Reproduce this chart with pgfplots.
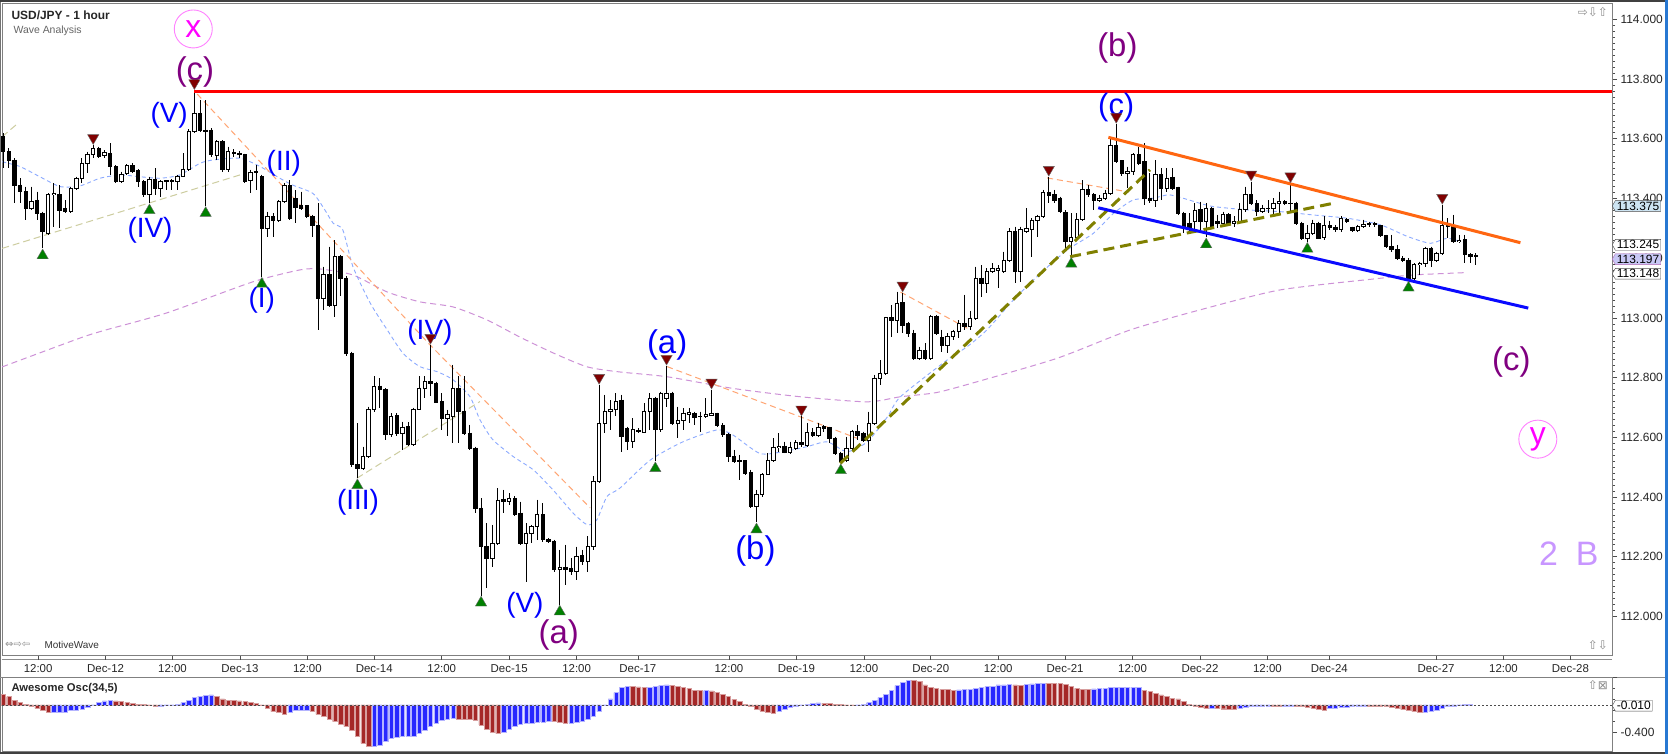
\documentclass[border=0pt]{standalone}
\usepackage{fontspec}
\setmainfont{Liberation Sans}
\newfontfamily\dejavu{DejaVu Sans}
\usepackage{pgfplots}
\pgfplotsset{compat=1.18}
\usepackage{pgfplotstable}
\usetikzlibrary{shapes.symbols}

\definecolor{wblue}{RGB}{0,0,255}
\definecolor{wpurple}{RGB}{128,0,128}
\definecolor{wpink}{RGB}{255,0,255}
\definecolor{wpinkc}{RGB}{255,130,255}
\definecolor{wlav}{RGB}{200,150,255}
\definecolor{lred}{RGB}{255,0,0}
\definecolor{lorange}{RGB}{255,102,17}
\definecolor{lblue}{RGB}{10,10,255}
\definecolor{lolive}{RGB}{128,128,0}
\definecolor{lolivel}{RGB}{205,205,160}
\definecolor{mablue}{RGB}{140,170,255}
\definecolor{mapurple}{RGB}{205,145,215}
\definecolor{lsalmon}{RGB}{255,165,115}
\definecolor{mkred}{RGB}{128,0,0}
\definecolor{mkgreen}{RGB}{0,128,0}
\definecolor{ored}{RGB}{165,40,40}
\definecolor{oblue}{RGB}{40,40,255}
\definecolor{boxblue}{RGB}{205,228,242}
\definecolor{boxlav}{RGB}{200,200,245}
\definecolor{framebl}{RGB}{40,120,210}

\pgfplotstableread{
i o h l c
0 113.607 113.618 113.501 113.557
1 113.557 113.568 113.501 113.529
2 113.529 113.535 113.384 113.445
3 113.445 113.468 113.384 113.423
4 113.423 113.440 113.328 113.367
5 113.367 113.440 113.360 113.389
6 113.395 113.423 113.328 113.350
7 113.350 113.356 113.233 113.289
8 113.283 113.417 113.278 113.412
9 113.412 113.451 113.306 113.417
10 113.412 113.445 113.300 113.361
11 113.367 113.395 113.350 113.356
12 113.356 113.440 113.350 113.434
13 113.434 113.473 113.428 113.468
14 113.468 113.535 113.451 113.518
15 113.518 113.557 113.484 113.546
16 113.546 113.579 113.535 113.568
17 113.568 113.574 113.535 113.540
18 113.543 113.562 113.535 113.554
19 113.551 113.585 113.479 113.507
20 113.507 113.512 113.451 113.456
21 113.456 113.490 113.451 113.479
22 113.484 113.515 113.479 113.509
23 113.509 113.518 113.484 113.490
24 113.493 113.498 113.440 113.456
25 113.456 113.462 113.406 113.412
26 113.412 113.473 113.384 113.464
27 113.464 113.501 113.412 113.434
28 113.434 113.462 113.406 113.456
29 113.456 113.462 113.428 113.459
30 113.459 113.465 113.428 113.456
31 113.456 113.479 113.428 113.475
32 113.475 113.551 113.473 113.498
33 113.498 113.632 113.493 113.626
34 113.626 113.763 113.618 113.685
35 113.685 113.730 113.624 113.627
36 113.629 113.730 113.375 113.624
37 113.629 113.635 113.540 113.546
38 113.543 113.596 113.529 113.590
39 113.590 113.595 113.490 113.496
40 113.496 113.574 113.490 113.557
41 113.554 113.565 113.540 113.551
42 113.551 113.560 113.535 113.546
43 113.546 113.550 113.451 113.456
44 113.462 113.496 113.417 113.487
45 113.487 113.512 113.428 113.490
46 113.473 113.480 113.138 113.300
47 113.300 113.356 113.272 113.339
48 113.339 113.350 113.272 113.328
49 113.328 113.395 113.322 113.389
50 113.389 113.451 113.384 113.442
51 113.442 113.462 113.328 113.334
52 113.400 113.428 113.317 113.370
53 113.375 113.423 113.361 113.367
54 113.375 113.378 113.334 113.339
55 113.339 113.345 113.272 113.311
56 113.311 113.384 112.959 113.066
57 113.066 113.172 113.026 113.144
58 113.144 113.239 113.038 113.043
59 113.043 113.261 113.004 113.205
60 113.206 113.211 113.072 113.133
61 113.133 113.139 112.871 112.882
62 112.882 112.887 112.502 112.508
63 112.508 112.647 112.463 112.497
64 112.497 112.569 112.491 112.536
65 112.536 112.703 112.530 112.692
66 112.692 112.804 112.686 112.770
67 112.772 112.798 112.698 112.761
68 112.761 112.765 112.592 112.608
69 112.608 112.680 112.600 112.670
70 112.672 112.681 112.603 112.614
71 112.612 112.653 112.558 112.634
72 112.636 112.650 112.572 112.575
73 112.575 112.700 112.572 112.694
74 112.694 112.804 112.692 112.765
75 112.765 112.804 112.731 112.787
76 112.787 112.910 112.737 112.781
77 112.781 112.787 112.714 112.717
78 112.720 112.748 112.625 112.664
79 112.664 112.692 112.603 112.675
80 112.670 112.843 112.580 112.765
81 112.765 112.804 112.580 112.686
82 112.686 112.804 112.608 112.614
83 112.614 112.642 112.558 112.564
84 112.564 112.569 112.346 112.363
85 112.363 112.396 112.070 112.234
86 112.234 112.313 112.095 112.195
87 112.195 112.307 112.167 112.245
88 112.245 112.430 112.240 112.390
89 112.393 112.424 112.346 112.385
90 112.385 112.413 112.374 112.396
91 112.396 112.402 112.335 112.340
92 112.346 112.385 112.240 112.245
93 112.245 112.313 112.117 112.279
94 112.279 112.307 112.245 112.301
95 112.301 112.391 112.257 112.340
96 112.340 112.380 112.251 112.257
97 112.257 112.262 112.245 112.251
98 112.251 112.257 112.150 112.156
99 112.156 112.223 112.040 112.165
100 112.165 112.240 112.106 112.158
101 112.162 112.195 112.139 112.150
102 112.150 112.234 112.123 112.201
103 112.203 112.223 112.173 112.184
104 112.184 112.268 112.150 112.234
105 112.234 112.469 112.223 112.452
106 112.452 112.776 112.446 112.647
107 112.647 112.742 112.614 112.686
108 112.686 112.725 112.625 112.694
109 112.694 112.748 112.670 112.720
110 112.725 112.742 112.552 112.602
111 112.630 112.636 112.558 112.586
112 112.586 112.664 112.563 112.625
113 112.622 112.630 112.613 112.619
114 112.616 112.714 112.613 112.686
115 112.686 112.748 112.625 112.731
116 112.731 112.736 112.520 112.625
117 112.625 112.753 112.619 112.748
118 112.731 112.840 112.703 112.748
119 112.748 112.753 112.642 112.647
120 112.647 112.703 112.597 112.658
121 112.658 112.697 112.625 112.681
122 112.675 112.697 112.647 112.683
123 112.680 112.686 112.642 112.666
124 112.670 112.686 112.619 112.669
125 112.669 112.731 112.664 112.677
126 112.672 112.760 112.670 112.680
127 112.680 112.683 112.636 112.641
128 112.641 112.647 112.602 112.608
129 112.608 112.613 112.518 112.535
130 112.537 112.558 112.513 112.518
131 112.522 112.541 112.457 112.519
132 112.522 112.524 112.474 112.479
133 112.482 112.491 112.362 112.368
134 112.368 112.424 112.315 112.407
135 112.407 112.479 112.401 112.477
136 112.477 112.546 112.474 112.524
137 112.524 112.597 112.518 112.565
138 112.565 112.614 112.552 112.571
139 112.571 112.586 112.546 112.549
140 112.549 112.586 112.544 112.566
141 112.563 112.591 112.558 112.582
142 112.582 112.670 112.569 112.577
143 112.574 112.647 112.569 112.616
144 112.616 112.630 112.602 112.605
145 112.605 112.649 112.602 112.633
146 112.636 112.641 112.619 112.630
147 112.633 112.636 112.580 112.597
148 112.597 112.602 112.541 112.546
149 112.546 112.552 112.513 112.518
150 112.524 112.602 112.518 112.563
151 112.563 112.625 112.558 112.619
152 112.619 112.641 112.591 112.605
153 112.613 112.619 112.586 112.591
154 112.591 112.686 112.552 112.647
155 112.647 112.809 112.642 112.798
156 112.798 112.859 112.775 112.815
157 112.815 113.004 112.809 113.000
158 113.000 113.043 112.937 112.993
159 112.993 113.088 112.949 113.049
160 113.051 113.085 112.948 112.976
161 112.980 112.987 112.937 112.948
162 112.948 112.960 112.859 112.864
163 112.864 112.904 112.859 112.892
164 112.890 112.915 112.859 112.864
165 112.864 113.010 112.859 113.006
166 113.006 113.010 112.943 112.948
167 112.935 112.960 112.887 112.909
168 112.909 112.948 112.881 112.937
169 112.937 112.960 112.926 112.954
170 112.954 112.993 112.932 112.982
171 112.982 113.077 112.960 112.971
172 112.971 113.024 112.960 112.999
173 112.999 113.172 112.993 113.133
174 113.133 113.177 113.071 113.116
175 113.116 113.166 113.082 113.155
176 113.155 113.183 113.149 113.166
177 113.160 113.177 113.099 113.166
178 113.155 113.222 113.149 113.194
179 113.194 113.300 113.188 113.289
180 113.289 113.306 113.116 113.155
181 113.155 113.306 113.121 113.295
182 113.289 113.367 113.283 113.300
183 113.295 113.334 113.205 113.328
184 113.326 113.345 113.272 113.341
185 113.339 113.429 113.334 113.420
186 113.420 113.473 113.384 113.409
187 113.412 113.429 113.384 113.395
188 113.401 113.406 113.350 113.356
189 113.353 113.361 113.227 113.255
190 113.255 113.350 113.205 113.270
191 113.270 113.350 113.261 113.330
192 113.330 113.462 113.326 113.429
193 113.429 113.445 113.406 113.412
194 113.412 113.417 113.361 113.395
195 113.395 113.412 113.389 113.401
196 113.401 113.429 113.395 113.417
197 113.417 113.607 113.412 113.579
198 113.579 113.650 113.518 113.523
199 113.526 113.529 113.476 113.484
200 113.484 113.507 113.434 113.490
201 113.490 113.551 113.479 113.546
202 113.546 113.574 113.512 113.518
203 113.523 113.585 113.378 113.401
204 113.401 113.484 113.384 113.395
205 113.395 113.529 113.373 113.479
206 113.479 113.501 113.395 113.434
207 113.434 113.501 113.423 113.468
208 113.471 113.501 113.429 113.434
209 113.437 113.440 113.345 113.350
210 113.350 113.356 113.283 113.306
211 113.317 113.350 113.289 113.300
212 113.322 113.384 113.294 113.361
213 113.362 113.390 113.295 113.323
214 113.323 113.384 113.270 113.368
215 113.368 113.373 113.300 113.306
216 113.323 113.345 113.300 113.317
217 113.317 113.356 113.306 113.345
218 113.345 113.351 113.312 113.317
219 113.317 113.340 113.306 113.323
220 113.323 113.384 113.317 113.362
221 113.362 113.440 113.356 113.412
222 113.412 113.457 113.379 113.384
223 113.384 113.395 113.340 113.356
224 113.356 113.379 113.351 113.368
225 113.365 113.395 113.351 113.368
226 113.368 113.401 113.345 113.384
227 113.382 113.423 113.351 113.390
228 113.390 113.395 113.379 113.384
229 113.385 113.451 113.351 113.383
230 113.384 113.390 113.312 113.317
231 113.317 113.323 113.262 113.267
232 113.267 113.312 113.255 113.284
233 113.284 113.329 113.278 113.315
234 113.315 113.323 113.264 113.267
235 113.270 113.340 113.262 113.309
236 113.309 113.326 113.295 113.304
237 113.304 113.312 113.289 113.295
238 113.295 113.340 113.289 113.334
239 113.331 113.334 113.317 113.323
240 113.304 113.306 113.289 113.293
241 113.293 113.312 113.289 113.306
242 113.306 113.329 113.300 113.312
243 113.314 113.323 113.306 113.315
244 113.315 113.323 113.306 113.314
245 113.309 113.312 113.270 113.275
246 113.275 113.278 113.234 113.239
247 113.239 113.278 113.222 113.228
248 113.228 113.245 113.194 113.200
249 113.200 113.206 113.189 113.194
250 113.194 113.200 113.125 113.133
251 113.133 113.183 113.127 113.178
252 113.178 113.189 113.144 113.183
253 113.183 113.239 113.172 113.234
254 113.234 113.239 113.172 113.194
255 113.194 113.222 113.189 113.217
256 113.217 113.379 113.211 113.309
257 113.309 113.334 113.267 113.306
258 113.306 113.345 113.250 113.256
259 113.256 113.278 113.250 113.260
260 113.262 113.278 113.183 113.211
261 113.211 113.217 113.183 113.206
262 113.207 113.217 113.178 113.208
}\candles

\pgfplotstableread{
i v
0 0.155
1 0.121
2 0.072
3 0.034
4 0.010
5 -0.024
6 -0.048
7 -0.082
8 -0.106
20 0.058
21 0.048
22 0.039
23 0.024
24 0.014
25 0.005
26 -0.010
27 -0.014
38 0.130
39 0.087
40 0.072
41 0.063
42 0.058
43 0.048
44 0.039
45 0.024
46 -0.005
47 -0.048
48 -0.097
49 -0.111
50 -0.130
55 -0.097
56 -0.135
57 -0.169
58 -0.203
59 -0.242
60 -0.275
61 -0.314
62 -0.372
63 -0.459
64 -0.555
65 -0.604
81 -0.203
82 -0.205
83 -0.207
84 -0.227
85 -0.290
86 -0.348
87 -0.396
88 -0.411
98 -0.242
99 -0.256
100 -0.266
112 0.266
113 0.264
114 0.256
119 0.288
120 0.266
121 0.256
122 0.242
123 0.217
124 0.208
126 0.203
127 0.184
128 0.155
129 0.121
130 0.082
131 0.048
132 0.010
133 -0.024
134 -0.058
135 -0.087
136 -0.111
137 -0.121
146 0.027
147 0.024
148 0.014
149 0.005
150 -0.005
151 -0.007
162 0.360
163 0.338
164 0.290
165 0.256
166 0.242
167 0.227
168 0.225
169 0.217
180 0.290
181 0.288
186 0.316
187 0.314
188 0.310
189 0.304
190 0.266
191 0.242
192 0.227
193 0.225
203 0.217
204 0.193
205 0.169
206 0.145
207 0.121
208 0.097
209 0.087
210 0.048
211 0.014
212 -0.014
213 -0.039
214 -0.053
216 -0.053
217 -0.054
218 -0.055
219 -0.056
226 -0.014
227 -0.015
230 -0.015
231 -0.024
232 -0.034
233 -0.048
234 -0.058
235 -0.072
243 -0.015
244 -0.016
245 -0.017
246 -0.024
247 -0.034
248 -0.048
249 -0.063
250 -0.082
251 -0.097
252 -0.110
}\oscred

\pgfplotstableread{
i v
9 -0.111
10 -0.111
11 -0.106
12 -0.082
13 -0.072
14 -0.058
15 -0.034
16 -0.005
17 0.043
18 0.058
19 0.063
28 -0.014
29 -0.010
30 -0.005
31 0.010
32 0.034
33 0.072
34 0.111
35 0.130
36 0.140
37 0.145
51 -0.111
52 -0.082
53 -0.072
54 -0.070
66 -0.594
67 -0.589
68 -0.531
69 -0.483
70 -0.469
71 -0.459
72 -0.455
73 -0.449
74 -0.411
75 -0.362
76 -0.314
77 -0.266
78 -0.217
79 -0.203
80 -0.193
89 -0.401
90 -0.353
91 -0.304
92 -0.275
93 -0.266
94 -0.263
95 -0.256
96 -0.246
97 -0.232
101 -0.263
102 -0.256
103 -0.232
104 -0.203
105 -0.169
106 -0.097
107 -0.010
108 0.087
109 0.179
110 0.256
111 0.275
115 0.258
116 0.275
117 0.280
118 0.290
125 0.210
138 -0.097
139 -0.063
140 -0.034
141 -0.014
142 -0.005
143 0.005
144 0.019
145 0.029
152 -0.003
153 0.010
154 0.034
155 0.072
156 0.106
157 0.155
158 0.217
159 0.280
160 0.328
161 0.362
170 0.219
171 0.227
172 0.229
173 0.242
174 0.251
175 0.266
176 0.275
177 0.290
178 0.292
179 0.299
182 0.304
183 0.306
184 0.309
185 0.318
194 0.232
195 0.237
196 0.242
197 0.251
198 0.256
199 0.257
200 0.258
201 0.259
202 0.260
215 -0.051
220 -0.048
221 -0.034
222 -0.024
223 -0.019
224 -0.014
225 -0.013
228 -0.014
229 -0.013
236 -0.053
237 -0.043
238 -0.034
239 -0.029
240 -0.024
241 -0.023
242 -0.014
253 -0.106
254 -0.097
255 -0.072
256 -0.048
257 -0.024
258 -0.014
259 -0.005
260 0.014
261 0.008
}\oscblue

\begin{document}
\begin{tikzpicture}[x=1bp,y=1bp]
\useasboundingbox (0,0) rectangle (1668,754);
\fill[white] (0,0) rectangle (1668,754);
\draw[black!55, line width=1bp] (0.5,0.5) rectangle (1667.5,753.5);
\fill[black!75] (0,752) rectangle (1668,754);
\fill[black!75] (0,0) rectangle (1668,2);
\fill[framebl] (1665,0) rectangle (1668,754);
\draw[black!45, line width=0.8bp] (0,77) -- (1665,77);
\draw[black!45, line width=0.8bp] (2,95) -- (1612,95);

% ---------------- main price panel ----------------
\begin{axis}[
  at={(2bp,99bp)}, anchor=south west, scale only axis,
  width=1610bp, height=652bp,
  xmin=-0.23, xmax=286.2, ymin=111.871, ymax=114.055,
  clip=false,
  axis line style={black!50, line width=0.8bp},
  tick align=outside, major tick length=5bp, minor tick length=3bp,
  tick style={black!70, line width=0.7bp},
  xtick pos=left, xticklabel pos=left,
  ytick pos=right, yticklabel pos=right,
  xtick={6.2,18.2,30.1,42.1,54.1,66.0,78.0,90.0,102.0,112.9,129.1,141.1,153.1,165.0,177.0,188.9,200.9,212.9,224.9,235.9,254.9,266.9,278.8},
  xticklabels={12:00,Dec-12,12:00,Dec-13,12:00,Dec-14,12:00,Dec-15,12:00,Dec-17,12:00,Dec-19,12:00,Dec-20,12:00,Dec-21,12:00,Dec-22,12:00,Dec-24,Dec-27,12:00,Dec-28},
  ytick={112,112.2,112.4,112.6,112.8,113,113.2,113.4,113.6,113.8,114},
  minor y tick num=9,
  scaled y ticks=false,
  /pgf/number format/assume math mode=true,
  yticklabel style={font=\fontsize{12}{12}\selectfont, text=black!85,
     /pgf/number format/fixed, /pgf/number format/fixed zerofill,
     /pgf/number format/precision=3, /pgf/number format/1000 sep={}},
  xticklabel style={font=\fontsize{11.5}{12}\selectfont, text=black!85, yshift=-1bp},
  candle/.style={only marks, mark=none, mark size=0pt, mark options={draw=none, fill=none}},
]
% moving averages
\addplot[mapurple, line width=1bp, dash pattern=on 6bp off 4bp, smooth, tension=0.4] coordinates {
(-0.2,112.836) (13.7,112.933) (18.3,112.960) (29.1,113.017) (44.4,113.121) (52.8,113.161) (56.4,113.164) (62.2,113.144) (68.3,113.087) (74.1,113.054) (80.0,113.037) (86.1,112.993) (91.9,112.936) (97.8,112.883) (103.9,112.836) (109.7,112.819) (118.1,112.803) (129.8,112.764) (141.8,112.736) (153.7,112.719) (159.6,112.736) (166,112.750) (173,112.785) (187.5,112.865) (200.5,112.960) (212.9,113.027) (227.2,113.094) (245,113.133) (250.8,113.144) (260.4,113.152)};
\addplot[mablue, line width=0.9bp, dash pattern=on 4bp off 3bp, smooth, tension=0.4] coordinates {
(-0.2,113.523) (3.0,113.507) (6.5,113.473) (10.1,113.440) (13.6,113.442) (17.2,113.468) (20.8,113.479) (24.3,113.473) (27.9,113.468) (31.4,113.479) (35.0,113.518) (37.3,113.529) (42.1,113.535) (45.7,113.507) (49.2,113.468) (51.5,113.445) (55.1,113.417) (57.2,113.362) (58.7,113.317) (60.4,113.295) (62.2,113.172) (65.3,113.049) (68.3,112.960) (71.1,112.882) (74.1,112.837) (77.2,112.820) (80.0,112.793) (83.0,112.737) (84.8,112.659) (87.1,112.592) (90.7,112.536) (94.3,112.491) (97.8,112.424) (101.4,112.346) (103.9,112.307) (105.6,112.324) (107.4,112.402) (109.7,112.430) (115.1,112.524) (120.9,112.585) (127.0,112.625) (129.8,112.608) (134.6,112.546) (138.7,112.552) (143.0,112.569) (146.6,112.585) (150.1,112.552) (153.7,112.585) (157.3,112.669) (159.6,112.736) (167.9,112.859) (171.5,112.904) (175.0,112.960) (179.7,113.060) (184.5,113.149) (189.3,113.228) (193.9,113.283) (197.5,113.350) (201.0,113.395) (204.6,113.401) (207.6,113.412) (212.9,113.384) (215.3,113.373) (221.3,113.362) (227.2,113.356) (233.0,113.345) (239.1,113.334) (245.0,113.312) (249.8,113.273) (253.9,113.250) (256.9,113.267) (260.4,113.250)};
% thin dashed guide lines
\addplot[lolivel, line width=1bp, dash pattern=on 7bp off 4bp] coordinates {(-0.2,113.233) (42.1,113.479)};
\addplot[lolivel, line width=1bp, dash pattern=on 7bp off 4bp] coordinates {(-0.2,113.607) (2.6,113.652)};
\addplot[lolivel, line width=1bp, dash pattern=on 7bp off 4bp] coordinates {(62.9,112.463) (84.8,112.720)};
\addplot[lsalmon, line width=1bp, dash pattern=on 6bp off 4bp] coordinates {(34.5,113.750) (75.9,112.910) (104.4,112.364)};
\addplot[lsalmon, line width=1bp, dash pattern=on 6bp off 4bp] coordinates {(118.1,112.837) (151.9,112.597)};
\addplot[lsalmon, line width=1bp, dash pattern=on 6bp off 4bp] coordinates {(159.6,113.087) (172,112.960)};
\addplot[lsalmon, line width=1bp, dash pattern=on 6bp off 4bp] coordinates {(185.7,113.469) (199.9,113.423)};
% candles: wicks, bodies, hollow interiors
\addplot[candle, error bars/.cd, y dir=minus, y explicit, error mark=none,
  error bar style={black, line width=1bp}]
  table[x=i, y=h, y error minus expr={\thisrow{h}-\thisrow{l}}] {\candles};
\addplot[candle, error bars/.cd, y dir=minus, y explicit, error mark=none,
  error bar style={black, line width=4.4bp}]
  table[x=i, y expr={max(\thisrow{o},\thisrow{c})+0.0017}, y error minus expr={abs(\thisrow{o}-\thisrow{c})+0.0034}] {\candles};
\addplot[candle, error bars/.cd, y dir=minus, y explicit, error mark=none,
  error bar style={white, line width=2.4bp}]
  table[x=i, y expr={\thisrow{c}-0.0017}, y error minus expr={max(0,\thisrow{c}-\thisrow{o}-0.0034)}] {\candles};
% trend lines
\addplot[lred, line width=3bp] coordinates {(34,113.758) (286.2,113.758)};
\addplot[lolive, line width=3bp, dash pattern=on 11bp off 6bp] coordinates {(148.9,112.513) (204.0,113.496)};
\addplot[lolive, line width=3bp, dash pattern=on 11bp off 6bp] coordinates {(189.8,113.205) (236.6,113.384)};
\addplot[lorange, line width=3bp] coordinates {(196.6,113.605) (269.9,113.252)};
\addplot[lblue, line width=3bp] coordinates {(194.8,113.369) (271.3,113.033)};
% swing markers
\addplot[only marks, mark=triangle*, mark size=6.5bp, mark options={fill=mkred, draw=black!60, line width=0.4bp, rotate=180}] coordinates {
(16,113.603) (34,113.787) (76,112.934) (106,112.800) (118,112.864) (126,112.784) (142,112.694) (160,113.109) (186,113.497) (198,113.674) (222,113.481) (229,113.475) (256,113.403)};
\addplot[only marks, mark=triangle*, mark size=6.5bp, mark options={fill=mkgreen, draw=black!60, line width=0.4bp}] coordinates {
(7,113.209) (26,113.360) (36,113.351) (46,113.114) (63,112.439) (85,112.046) (99,112.016) (116,112.496) (134,112.291) (149,112.489) (190,113.181) (214,113.246) (232,113.231) (250,113.101)};
% wave labels
\node[circle, draw=wpinkc, line width=0.9bp, minimum size=38bp, inner sep=0pt, text=wpink, font=\fontsize{32}{32}\selectfont] at (axis cs:33.8,113.968) {x};
\node[text=wpurple, font=\fontsize{33}{33}\selectfont] at (axis cs:34.1,113.824) {(c)};
\node[text=wblue, font=\fontsize{28}{28}\selectfont] at (axis cs:29.5,113.680) {(V)};
\node[text=wblue, font=\fontsize{28}{28}\selectfont] at (axis cs:26.1,113.295) {(IV)};
\node[text=wblue, font=\fontsize{28}{28}\selectfont] at (axis cs:49.9,113.519) {(II)};
\node[text=wblue, font=\fontsize{28}{28}\selectfont] at (axis cs:46.0,113.060) {(I)};
\node[text=wblue, font=\fontsize{28}{28}\selectfont] at (axis cs:63.1,112.384) {(III)};
\node[text=wblue, font=\fontsize{28}{28}\selectfont] at (axis cs:75.9,112.953) {(IV)};
\node[text=wblue, font=\fontsize{28}{28}\selectfont] at (axis cs:92.8,112.039) {(V)};
\node[text=wpurple, font=\fontsize{33}{33}\selectfont] at (axis cs:98.8,111.938) {(a)};
\node[text=wblue, font=\fontsize{33}{33}\selectfont] at (axis cs:118.1,112.910) {(a)};
\node[text=wblue, font=\fontsize{33}{33}\selectfont] at (axis cs:133.8,112.219) {(b)};
\node[text=wpurple, font=\fontsize{33}{33}\selectfont] at (axis cs:198.2,113.905) {(b)};
\node[text=wblue, font=\fontsize{31}{31}\selectfont] at (axis cs:198.0,113.705) {(c)};
\node[text=wpurple, font=\fontsize{33}{33}\selectfont] at (axis cs:268.3,112.853) {(c)};
\node[circle, draw=wpinkc, line width=0.9bp, minimum size=38bp, inner sep=0pt, text=wpink, font=\fontsize{32}{32}\selectfont] at (axis cs:273.0,112.594) {y};
\node[text=wlav, font=\fontsize{34}{34}\selectfont] at (axis cs:274.9,112.209) {2};
\node[text=wlav, font=\fontsize{34}{34}\selectfont] at (axis cs:281.8,112.209) {B};
% price callouts
\node[signal, signal to=west, signal pointer angle=120, draw=black!70, fill=boxblue, inner xsep=1.5bp, inner ysep=1.2bp, font=\fontsize{12}{12}\selectfont, anchor=west] at (axis cs:286.2,113.375) {113.375};
\node[signal, signal to=west, signal pointer angle=120, draw=black!70, fill=white, inner xsep=1.5bp, inner ysep=1.2bp, font=\fontsize{12}{12}\selectfont, anchor=west] at (axis cs:286.2,113.245) {113.245};
\node[signal, signal to=west, signal pointer angle=120, draw=black!70, fill=white, inner xsep=1.5bp, inner ysep=1.2bp, font=\fontsize{12}{12}\selectfont, anchor=west] at (axis cs:286.2,113.148) {113.148};
\node[signal, signal to=west, signal pointer angle=120, draw=wpurple!60, fill=boxlav, inner xsep=1.5bp, inner ysep=1.2bp, font=\fontsize{12}{12}\selectfont, anchor=west] at (axis cs:286.2,113.197) {113.197};
\end{axis}

% ---------------- oscillator panel ----------------
\begin{axis}[
  at={(2bp,3bp)}, anchor=south west, scale only axis,
  width=1610bp, height=74bp,
  xmin=-0.23, xmax=286.2, ymin=-0.667, ymax=0.406,
  clip=false,
  axis line style={black!50, line width=0.8bp},
  xtick=\empty,
  ytick={-0.4,0.4}, yticklabels={-0.400,{}},
  ytick pos=right, yticklabel pos=right,
  minor y tick num=4,
  tick align=outside, major tick length=5bp, minor tick length=3bp,
  tick style={black!70, line width=0.7bp},
  yticklabel style={font=\fontsize{12}{12}\selectfont, text=black!85},
]
\addplot[ybar, bar width=4.4bp, bar shift=0pt, fill=ored, draw=ored!45, line width=0.4bp] table[x=i, y=v] {\oscred};
\addplot[ybar, bar width=4.4bp, bar shift=0pt, fill=oblue, draw=oblue!35, line width=0.4bp] table[x=i, y=v] {\oscblue};
\addplot[black!70, line width=0.8bp, dash pattern=on 2bp off 2bp] coordinates {(-0.23,0) (286.2,0)};
\node[signal, signal to=west, signal pointer angle=120, draw=black!70, fill=white, inner xsep=1.5bp, inner ysep=1.2bp, font=\fontsize{12}{12}\selectfont, anchor=west] at (axis cs:286.2,-0.01) {-0.010};
\end{axis}

% ---------------- texts and icons ----------------
\node[anchor=west, font=\bfseries\fontsize{12}{12}\selectfont, text=black!85] at (8,739) {USD/JPY - 1 hour};
\node[anchor=west, font=\fontsize{10.5}{11}\selectfont, text=black!60] at (10,723) {Wave Analysis};
\node[anchor=west, font=\fontsize{10}{10}\selectfont, text=black!80] at (41,109) {MotiveWave};
\node[anchor=west, font=\dejavu\fontsize{10}{10}\selectfont, text=black!45, inner sep=0pt] at (5,109) {⇔⇨⇦};
\node[anchor=west, font=\bfseries\fontsize{11.3}{12}\selectfont, text=black!85] at (8,65) {Awesome Osc(34,5)};
\node[anchor=east, font=\dejavu\fontsize{12}{12}\selectfont, text=black!45, inner sep=0pt] at (1608,742) {⇨⇩⇧};
\node[anchor=east, font=\dejavu\fontsize{12}{12}\selectfont, text=black!45, inner sep=0pt] at (1608,109) {⇧⇩};
\node[anchor=east, font=\dejavu\fontsize{12}{12}\selectfont, text=black!45, inner sep=0pt] at (1608,69) {⇧⊠};
\end{tikzpicture}
\end{document}
